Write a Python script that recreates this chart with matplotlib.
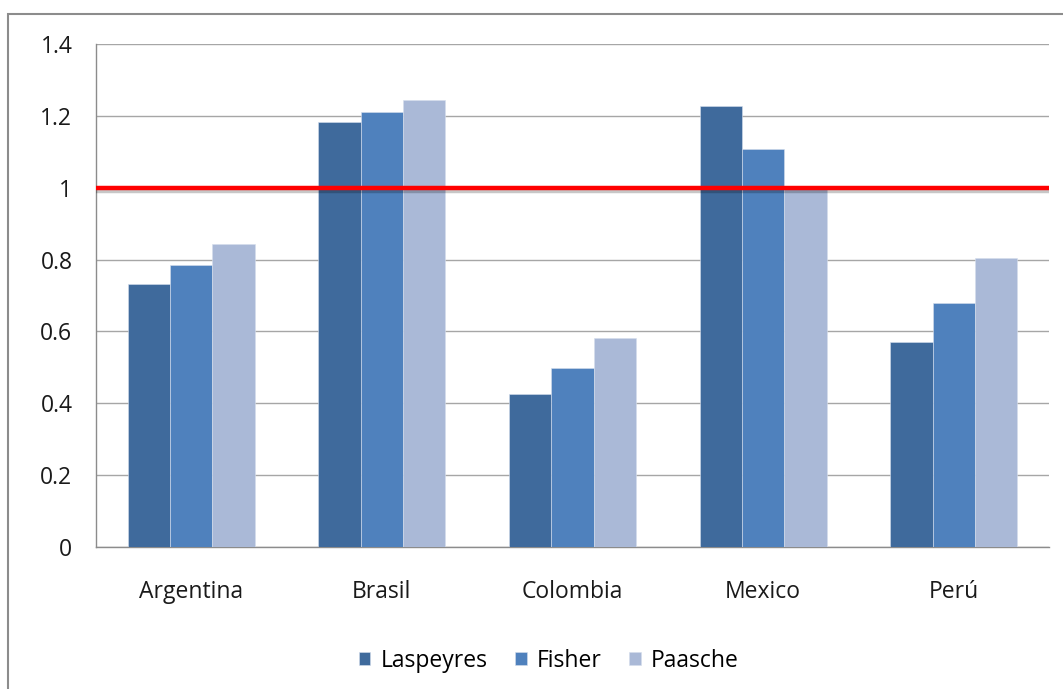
import matplotlib
matplotlib.use("Agg")
import matplotlib.pyplot as plt
import matplotlib.patheffects as pe
from matplotlib.patches import Rectangle
import numpy as np

plt.rcParams['font.family'] = ['Open Sans', 'DejaVu Sans']

countries = ["Argentina", "Brasil", "Colombia", "Mexico", "Perú"]
laspeyres = [0.732, 1.183, 0.427, 1.227, 0.571]
fisher = [0.785, 1.212, 0.497, 1.108, 0.680]
paasche = [0.843, 1.243, 0.582, 1.000, 0.805]
series_names = ["Laspeyres", "Fisher", "Paasche"]
reference_level = 1.0
y_ticks = [0, 0.2, 0.4, 0.6, 0.8, 1, 1.2, 1.4]
y_tick_labels = ["0", "0.2", "0.4", "0.6", "0.8", "1", "1.2", "1.4"]

colors = ["#3F6A9C", "#4F81BD", "#AAB9D7"]
font_size = 16.5

fig = plt.figure(figsize=(10.63, 6.89), dpi=100)
fig.patch.set_facecolor("white")

# outer chart-area frame
fig.patches.append(Rectangle((8 / 1063, -0.05), 1.1, 1 - 14 / 689 + 0.05,
                             transform=fig.transFigure, fill=False,
                             edgecolor="#8C8C8C", linewidth=1.5, zorder=0))

ax = fig.add_axes([96 / 1063, 1 - 547 / 689, (1049 - 96) / 1063, (547 - 44) / 689])

x = np.arange(len(countries))
w = 0.222
for i, (vals, name) in enumerate(zip([laspeyres, fisher, paasche], series_names)):
    ax.bar(x + (i - 1) * w, vals, width=w, color=colors[i], label=name,
           edgecolor="#D5DEEC", linewidth=0.4, zorder=3)

ax.axhline(reference_level, color="#FF0000", linewidth=3.2, zorder=4,
           path_effects=[pe.SimpleLineShadow(offset=(0, -2.5), shadow_color="black", alpha=0.22),
                         pe.Normal()])

ax.set_xlim(-0.5, len(countries) - 0.5)
ax.set_ylim(0, 1.4)
ax.set_yticks(y_ticks)
ax.set_yticklabels(y_tick_labels)
ax.set_xticks(x)
ax.set_xticklabels(countries)
ax.yaxis.grid(True, color="#A6A6A6", linewidth=1.0, zorder=0)
ax.set_axisbelow(True)
ax.tick_params(axis="both", length=0, labelsize=font_size, colors="#1A1A1A")
ax.tick_params(axis="y", pad=17)
ax.tick_params(axis="x", pad=24)
for side in ["top", "right"]:
    ax.spines[side].set_visible(False)
ax.spines["left"].set_color("#8C8C8C")
ax.spines["bottom"].set_color("#8C8C8C")
ax.spines["left"].set_linewidth(1.0)
ax.spines["bottom"].set_linewidth(1.0)

handles, labels = ax.get_legend_handles_labels()
fig.legend(handles, labels, loc="center", bbox_to_anchor=(549 / 1063, 1 - 661 / 689),
           ncol=3, frameon=False, fontsize=font_size, handlelength=0.5, handleheight=0.5,
           handletextpad=0.45, columnspacing=1.2)

fig.savefig("out.png", dpi=100)
